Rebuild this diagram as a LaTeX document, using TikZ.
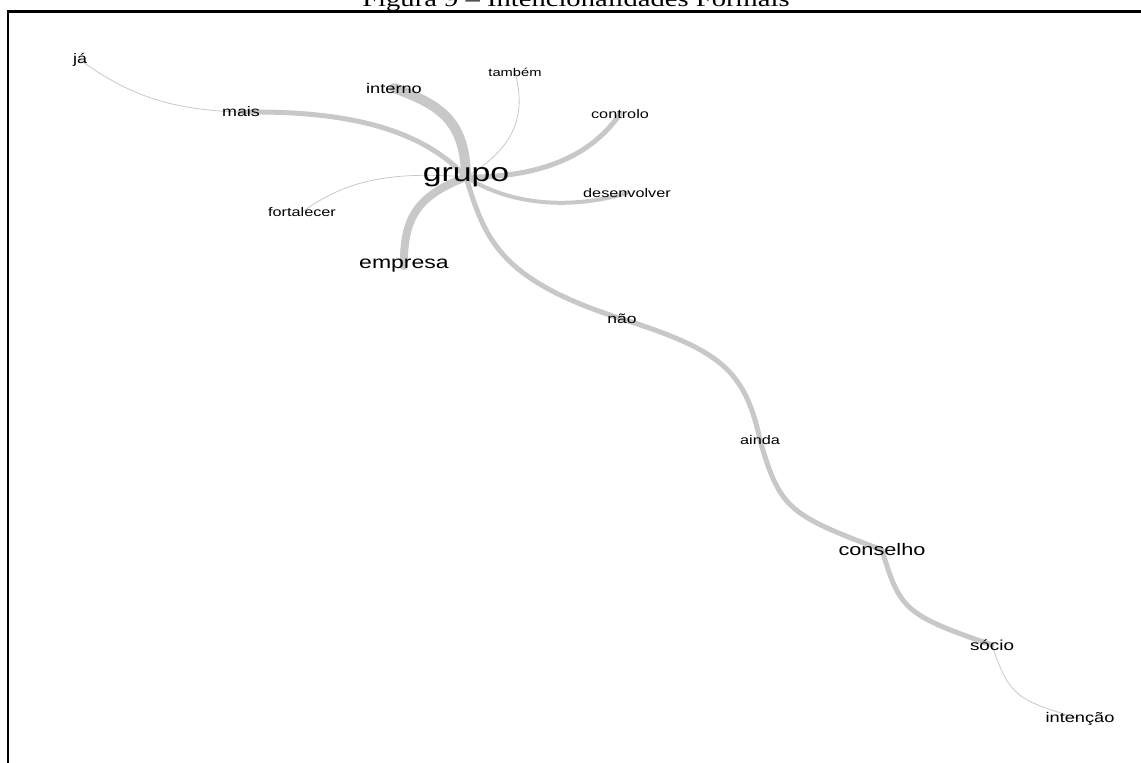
\documentclass[tikz,border=0pt]{standalone}
\usepackage{fontspec}
\setmainfont[FakeStretch=1.3]{Liberation Sans}
\newfontfamily\capfont[FakeStretch=1.3]{Liberation Serif}
\usetikzlibrary{backgrounds}
\definecolor{edgegray}{RGB}{200,200,200}

\begin{document}
\begin{tikzpicture}[x=1pt,y=-1pt,
    word/.style={inner sep=0pt,text=black},
    link/.style={draw=edgegray,line cap=round}]
    \useasboundingbox (0,0) rectangle (1141,763);
    % caption, cut off at the top
    \node[anchor=base,font=\capfont\fontsize{22}{22}\selectfont] (caption) at (576,6) {Figura 9 – Intencionalidades Formais};
    % frame
    \draw[line width=2.7pt] (8,770) -- (8,11.5) -- (1150,11.5);
    % words
    \foreach \name/\word/\x/\y/\fs in {ja/já/80/60/13.8, mais/mais/241/112/13.8,
        interno/interno/394/88/14, fortalecer/fortalecer/302/212/12.5,
        empresa/empresa/404/266/17.7, grupo/grupo/466/177/26,
        tambem/também/515/72/11.3, controlo/controlo/620/114/12.5,
        desenvolver/desenvolver/627/193/12.5, nao/não/622/319/13.4,
        ainda/ainda/760/440/12.5, conselho/conselho/882/550/16.7,
        socio/sócio/992/645/14.5, intencao/intenção/1080/719/14} {
        \node[word,font=\fontsize{\fs}{\fs}\selectfont] (\name) at (\x,\y) {\word};
    }
    % links
    \begin{pgfonlayer}{background}
        \draw[link,line width=0.8pt] (ja.center) .. controls (125,92) and (165,110) .. (mais.center);
        \draw[link,line width=5pt] (mais.center) .. controls (330,111) and (415,122) .. (grupo.center);
        \draw[link,line width=10pt] (interno.center) .. controls (440,105) and (465,120) .. (grupo.center);
        \draw[link,line width=0.8pt] (fortalecer.center) .. controls (340,185) and (380,170) .. (grupo.center);
        \draw[link,line width=8pt] (empresa.center) .. controls (403,215) and (420,195) .. (grupo.center);
        \draw[link,line width=0.8pt] (tambem.center) .. controls (525,110) and (520,145) .. (grupo.center);
        \draw[link,line width=5pt] (controlo.center) .. controls (595,150) and (550,178) .. (grupo.center);
        \draw[link,line width=4pt] (desenvolver.center) .. controls (570,210) and (510,205) .. (grupo.center);
        \draw[link,line width=5pt] (grupo.center) .. controls (485,240) and (500,280) .. (nao.center);
        \draw[link,line width=5pt] (nao.center) .. controls (720,350) and (745,370) .. (ainda.center);
        \draw[link,line width=5pt] (ainda.center) .. controls (780,510) and (790,515) .. (conselho.center);
        \draw[link,line width=5pt] (conselho.center) .. controls (900,610) and (905,615) .. (socio.center);
        \draw[link,line width=0.8pt] (socio.center) .. controls (1010,700) and (1020,700) .. (intencao.center);
    \end{pgfonlayer}
\end{tikzpicture}
\end{document}
